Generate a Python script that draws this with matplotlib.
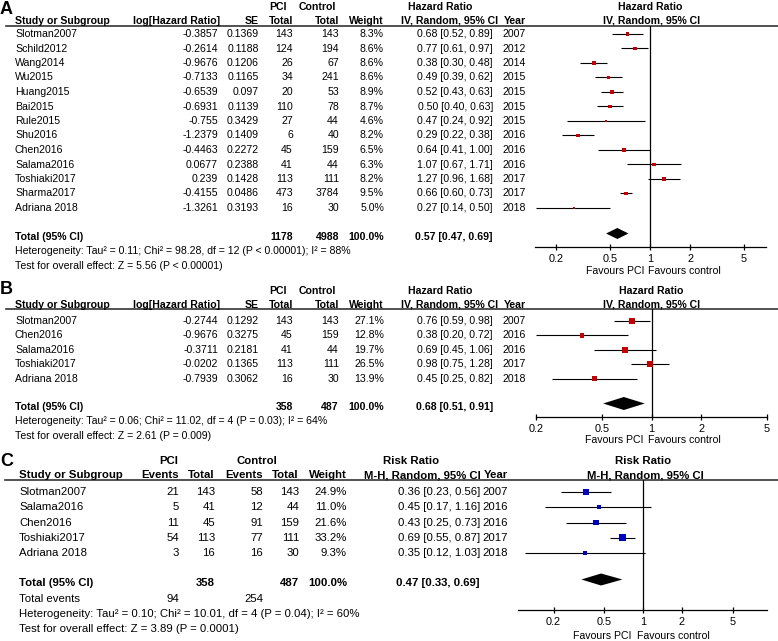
import matplotlib
matplotlib.use('Agg')
import matplotlib.pyplot as plt

plt.rcParams['font.family'] = ['Liberation Sans', 'DejaVu Sans']

W, H = 778, 641

# ---------------- Panel A data ----------------
a_studies = ["Slotman2007", "Schild2012", "Wang2014", "Wu2015", "Huang2015", "Bai2015", "Rule2015",
             "Shu2016", "Chen2016", "Salama2016", "Toshiaki2017", "Sharma2017", "Adriana 2018"]
a_loghr = [-0.3857, -0.2614, -0.9676, -0.7133, -0.6539, -0.6931, -0.755, -1.2379, -0.4463, 0.0677, 0.239, -0.4155, -1.3261]
a_se = [0.1369, 0.1188, 0.1206, 0.1165, 0.097, 0.1139, 0.3429, 0.1409, 0.2272, 0.2388, 0.1428, 0.0486, 0.3193]
a_pci = [143, 124, 26, 34, 20, 110, 27, 6, 45, 41, 113, 473, 16]
a_ctrl = [143, 194, 67, 241, 53, 78, 44, 40, 159, 44, 111, 3784, 30]
a_weight = [8.3, 8.6, 8.6, 8.6, 8.9, 8.7, 4.6, 8.2, 6.5, 6.3, 8.2, 9.5, 5.0]
a_hr = [0.68, 0.77, 0.38, 0.49, 0.52, 0.50, 0.47, 0.29, 0.64, 1.07, 1.27, 0.66, 0.27]
a_lo = [0.52, 0.61, 0.30, 0.39, 0.43, 0.40, 0.24, 0.22, 0.41, 0.67, 0.96, 0.60, 0.14]
a_hi = [0.89, 0.97, 0.48, 0.62, 0.63, 0.63, 0.92, 0.38, 1.00, 1.71, 1.68, 0.73, 0.50]
a_year = [2007, 2012, 2014, 2015, 2015, 2015, 2015, 2016, 2016, 2016, 2017, 2017, 2018]
a_total = (1178, 4988, 100.0, 0.57, 0.47, 0.69)
a_het = "Heterogeneity: Tau² = 0.11; Chi² = 98.28, df = 12 (P < 0.00001); I² = 88%"
a_test = "Test for overall effect: Z = 5.56 (P < 0.00001)"

# ---------------- Panel B data ----------------
b_studies = ["Slotman2007", "Chen2016", "Salama2016", "Toshiaki2017", "Adriana 2018"]
b_loghr = [-0.2744, -0.9676, -0.3711, -0.0202, -0.7939]
b_se = [0.1292, 0.3275, 0.2181, 0.1365, 0.3062]
b_pci = [143, 45, 41, 113, 16]
b_ctrl = [143, 159, 44, 111, 30]
b_weight = [27.1, 12.8, 19.7, 26.5, 13.9]
b_hr = [0.76, 0.38, 0.69, 0.98, 0.45]
b_lo = [0.59, 0.20, 0.45, 0.75, 0.25]
b_hi = [0.98, 0.72, 1.06, 1.28, 0.82]
b_year = [2007, 2016, 2016, 2017, 2018]
b_total = (358, 487, 100.0, 0.68, 0.51, 0.91)
b_het = "Heterogeneity: Tau² = 0.06; Chi² = 11.02, df = 4 (P = 0.03); I² = 64%"
b_test = "Test for overall effect: Z = 2.61 (P = 0.009)"

# ---------------- Panel C data ----------------
c_studies = ["Slotman2007", "Salama2016", "Chen2016", "Toshiaki2017", "Adriana 2018"]
c_pci_ev = [21, 5, 11, 54, 3]
c_pci_tot = [143, 41, 45, 113, 16]
c_ctrl_ev = [58, 12, 91, 77, 16]
c_ctrl_tot = [143, 44, 159, 111, 30]
c_weight = [24.9, 11.0, 21.6, 33.2, 9.3]
c_rr = [0.36, 0.45, 0.43, 0.69, 0.35]
c_lo = [0.23, 0.17, 0.25, 0.55, 0.12]
c_hi = [0.56, 1.16, 0.73, 0.87, 1.03]
c_year = [2007, 2016, 2016, 2017, 2018]
c_total = (358, 487, 100.0, 0.47, 0.33, 0.69)
c_events = (94, 254)
c_het = "Heterogeneity: Tau² = 0.10; Chi² = 10.01, df = 4 (P = 0.04); I² = 60%"
c_test = "Test for overall effect: Z = 3.89 (P = 0.0001)"

tick_vals = [0.2, 0.5, 1, 2, 5]
tick_labels = ["0.2", "0.5", "1", "2", "5"]

fig = plt.figure(figsize=(W / 100, H / 100), dpi=100)
tax = fig.add_axes([0, 0, 1, 1])
tax.set_xlim(0, W)
tax.set_ylim(H, 0)
tax.axis('off')


def T(x, y, s, ha='left', fs=7.6, bold=False, **kw):
    tax.text(x, y, s, ha=ha, va='center', fontsize=fs,
             fontweight='bold' if bold else 'normal', color='black', **kw)


def ci_text(e, l, h):
    return f"{e:.2f} [{l:.2f}, {h:.2f}]"


def forest(x0, x1, ytop, ybot, xlim, rows_y, est, lo, hi, w, color, tot, tot_y, dh):
    ax = fig.add_axes([x0 / W, 1 - ybot / H, (x1 - x0) / W, (ybot - ytop) / H])
    ax.patch.set_alpha(0)
    ax.set_xscale('log')
    ax.set_xlim(*xlim)
    ax.set_ylim(ybot, ytop)
    for s in ['top', 'right', 'left']:
        ax.spines[s].set_visible(False)
    ax.spines['bottom'].set_linewidth(0.9)
    ax.set_yticks([])
    ax.set_xticks(tick_vals)
    ax.set_xticklabels(tick_labels)
    ax.xaxis.set_minor_locator(matplotlib.ticker.NullLocator())
    ax.tick_params(axis='x', direction='inout', length=5, width=0.9, labelsize=7.8, pad=2.5)
    ax.axvline(1, color='black', lw=0.9, zorder=1)
    ax.hlines(rows_y, lo, hi, color='black', lw=0.8, zorder=2)
    sizes = [(1.25 * wi ** 0.5 * 0.72) ** 2 for wi in w]
    ax.scatter(est, rows_y, s=sizes, marker='s', color=color, linewidths=0, zorder=3)
    e, l, h = tot
    ax.fill([l, e, h, e], [tot_y, tot_y - dh / 2, tot_y, tot_y + dh / 2], color='black',
            lw=0, zorder=3)
    return ax


# ======== Panel A ========
T(0, 9, "A", fs=13, bold=True)
T(278, 7, "PCI", ha='center', bold=True)
T(317, 7, "Control", ha='center', bold=True)
T(440, 7, "Hazard Ratio", ha='center', bold=True)
T(650, 7, "Hazard Ratio", ha='center', bold=True)
hy = 20.5
T(15, hy, "Study or Subgroup", bold=True)
T(220, hy, "log[Hazard Ratio]", ha='right', bold=True)
T(259, hy, "SE", ha='right', bold=True)
T(293, hy, "Total", ha='right', bold=True)
T(339, hy, "Total", ha='right', bold=True)
T(384, hy, "Weight", ha='right', bold=True)
T(498, hy, "IV, Random, 95% CI", ha='right', bold=True)
T(526, hy, "Year", ha='right', bold=True)
T(652, hy, "IV, Random, 95% CI", ha='center', bold=True)
tax.plot([6, W], [25.5, 25.5], color='#333333', lw=1.2)

a_rows = [34 + i * 14.5 for i in range(len(a_studies))]
for i, y in enumerate(a_rows):
    T(15, y, a_studies[i])
    T(218, y, str(a_loghr[i]), ha='right')
    T(259, y, str(a_se[i]), ha='right')
    T(293, y, str(a_pci[i]), ha='right')
    T(339, y, str(a_ctrl[i]), ha='right')
    T(384, y, f"{a_weight[i]:.1f}%", ha='right')
    T(493, y, ci_text(a_hr[i], a_lo[i], a_hi[i]), ha='right')
    T(526, y, str(a_year[i]), ha='right')
ty = 237
T(15, ty, "Total (95% CI)", bold=True)
T(293, ty, str(a_total[0]), ha='right', bold=True)
T(339, ty, str(a_total[1]), ha='right', bold=True)
T(384, ty, f"{a_total[2]:.1f}%", ha='right', bold=True)
T(493, ty, ci_text(*a_total[3:]), ha='right', bold=True)
T(15, 251.5, a_het)
T(15, 266, a_test)
forest(535, 766, 25.5, 247, (0.1382, 7.36), a_rows, a_hr, a_lo, a_hi, a_weight,
       '#c40000', a_total[3:], 233.5, 11)
T(645, 271, "Favours PCI", ha='right')
T(648, 271, "Favours control", ha='left')

# ======== Panel B ========
T(0, 290, "B", fs=13, bold=True)
T(278, 291, "PCI", ha='center', bold=True)
T(317, 291, "Control", ha='center', bold=True)
T(440, 291, "Hazard Ratio", ha='center', bold=True)
T(651, 291, "Hazard Ratio", ha='center', bold=True)
hy = 304.5
T(15, hy, "Study or Subgroup", bold=True)
T(220, hy, "log[Hazard Ratio]", ha='right', bold=True)
T(259, hy, "SE", ha='right', bold=True)
T(293, hy, "Total", ha='right', bold=True)
T(339, hy, "Total", ha='right', bold=True)
T(384, hy, "Weight", ha='right', bold=True)
T(498, hy, "IV, Random, 95% CI", ha='right', bold=True)
T(526, hy, "Year", ha='right', bold=True)
T(652, hy, "IV, Random, 95% CI", ha='center', bold=True)
tax.plot([6, W], [308.5, 308.5], color='#333333', lw=1.2)

b_rows = [321 + i * 14.4 for i in range(len(b_studies))]
for i, y in enumerate(b_rows):
    T(15, y, b_studies[i])
    T(218, y, str(b_loghr[i]), ha='right')
    T(259, y, str(b_se[i]), ha='right')
    T(293, y, str(b_pci[i]), ha='right')
    T(339, y, str(b_ctrl[i]), ha='right')
    T(384, y, f"{b_weight[i]:.1f}%", ha='right')
    T(493, y, ci_text(b_hr[i], b_lo[i], b_hi[i]), ha='right')
    T(526, y, str(b_year[i]), ha='right')
ty = 407
T(15, ty, "Total (95% CI)", bold=True)
T(293, ty, str(b_total[0]), ha='right', bold=True)
T(339, ty, str(b_total[1]), ha='right', bold=True)
T(384, ty, f"{b_total[2]:.1f}%", ha='right', bold=True)
T(493, ty, ci_text(*b_total[3:]), ha='right', bold=True)
T(15, 421.5, b_het)
T(15, 436, b_test)
forest(536, 767, 308.5, 417, (0.2, 5), b_rows, b_hr, b_lo, b_hi, b_weight,
       '#c40000', b_total[3:], 403.5, 13)
T(644, 440, "Favours PCI", ha='right')
T(648, 440, "Favours control", ha='left')

# ======== Panel C ========
fc = 8.2
T(0, 461, "C", fs=13, bold=True)
T(169, 461, "PCI", ha='center', fs=fc, bold=True)
T(257, 461, "Control", ha='center', fs=fc, bold=True)
T(411, 461, "Risk Ratio", ha='center', fs=fc, bold=True)
T(643, 461, "Risk Ratio", ha='center', fs=fc, bold=True)
hy = 475.5
T(19, hy, "Study or Subgroup", fs=fc, bold=True)
T(179, hy, "Events", ha='right', fs=fc, bold=True)
T(215, hy, "Total", ha='right', fs=fc, bold=True)
T(263, hy, "Events", ha='right', fs=fc, bold=True)
T(299, hy, "Total", ha='right', fs=fc, bold=True)
T(347, hy, "Weight", ha='right', fs=fc, bold=True)
T(481, hy, "M-H, Random, 95% CI", ha='right', fs=fc, bold=True)
T(508, hy, "Year", ha='right', fs=fc, bold=True)
T(645, hy, "M-H, Random, 95% CI", ha='center', fs=fc, bold=True)
tax.plot([5, W], [480, 480], color='#333333', lw=1.2)

c_rows = [492 + i * 15.25 for i in range(len(c_studies))]
for i, y in enumerate(c_rows):
    T(19, y, c_studies[i], fs=fc)
    T(179, y, str(c_pci_ev[i]), ha='right', fs=fc)
    T(215, y, str(c_pci_tot[i]), ha='right', fs=fc)
    T(263, y, str(c_ctrl_ev[i]), ha='right', fs=fc)
    T(299, y, str(c_ctrl_tot[i]), ha='right', fs=fc)
    T(347, y, f"{c_weight[i]:.1f}%", ha='right', fs=fc)
    T(480, y, ci_text(c_rr[i], c_lo[i], c_hi[i]), ha='right', fs=fc)
    T(508, y, str(c_year[i]), ha='right', fs=fc)
ty = 583
T(19, ty, "Total (95% CI)", fs=fc, bold=True)
T(215, ty, str(c_total[0]), ha='right', fs=fc, bold=True)
T(299, ty, str(c_total[1]), ha='right', fs=fc, bold=True)
T(347, ty, f"{c_total[2]:.1f}%", ha='right', fs=fc, bold=True)
T(480, ty, ci_text(*c_total[3:]), ha='right', fs=fc, bold=True)
T(19, 599, "Total events", fs=fc)
T(179, 599, str(c_events[0]), ha='right', fs=fc)
T(263, 599, str(c_events[1]), ha='right', fs=fc)
T(19, 614, c_het, fs=fc)
T(19, 629, c_test, fs=fc)
forest(518, 767, 480, 610, (0.1055, 9.3), c_rows, c_rr, c_lo, c_hi, c_weight,
       '#0000c0', c_total[3:], 579.5, 12)
T(632, 636, "Favours PCI", ha='right')
T(637, 636, "Favours control", ha='left')

fig.savefig("out.png", dpi=100)
